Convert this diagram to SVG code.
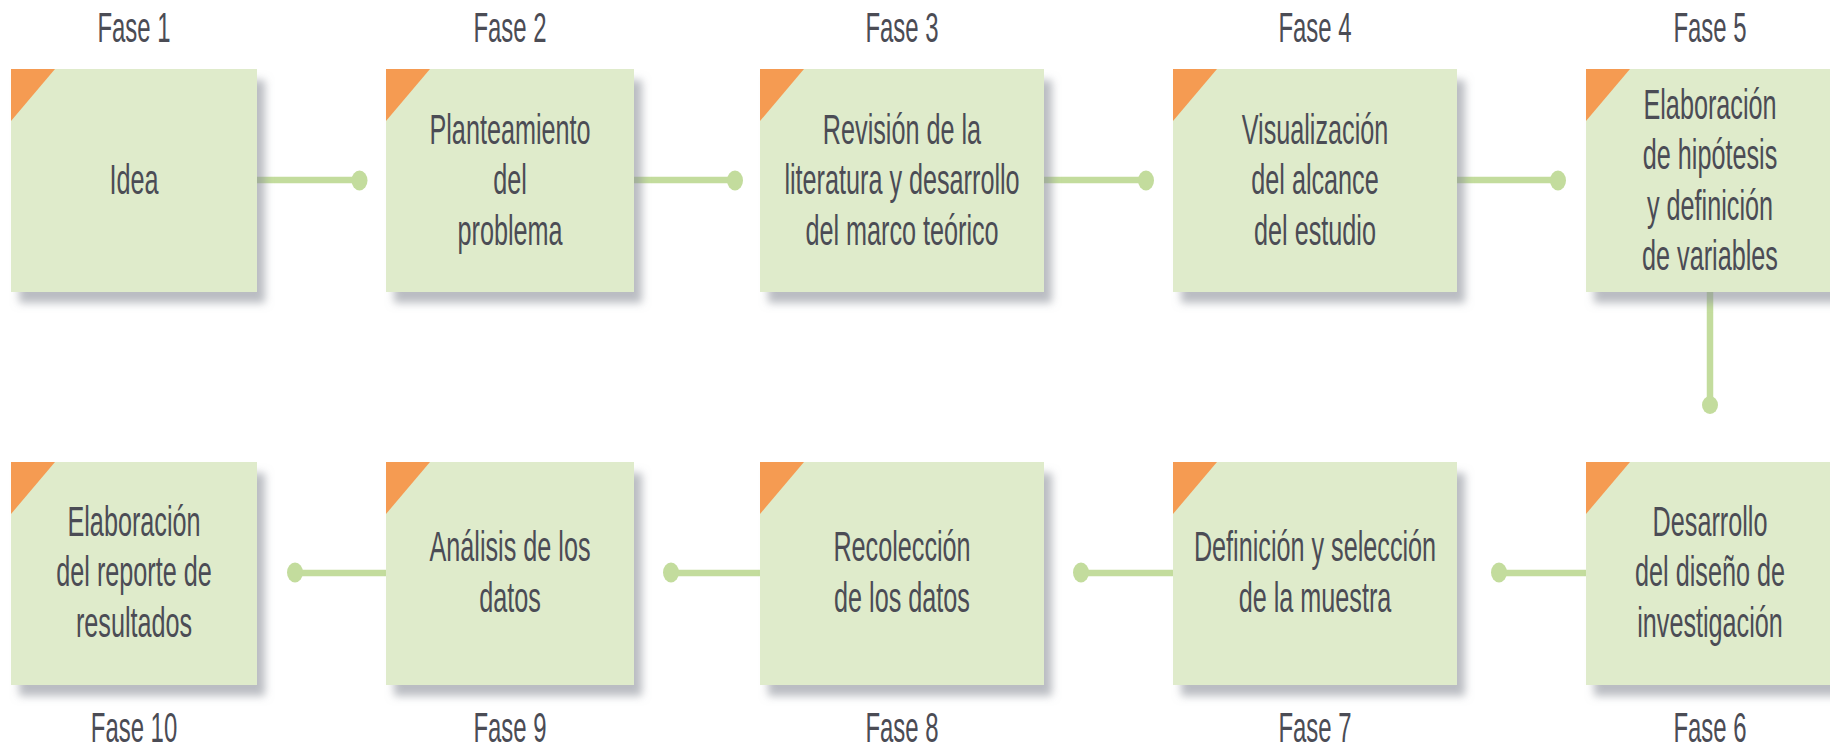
<svg xmlns="http://www.w3.org/2000/svg" width="1830" height="748" viewBox="0 0 1830 748">
<defs>
<style>
.box{fill:#dfebcb;filter:url(#sh)}
.tri{fill:#f59b52}
.t{font-family:"Liberation Sans",Arial,sans-serif;font-size:42px;fill:#4b4c55;text-anchor:middle}
.ln{stroke:#c3dc9d;stroke-width:6.5;fill:none}
.dot{fill:#c3dc9d}
</style>
<filter id="sh" x="-10%" y="-10%" width="130%" height="130%">
<feDropShadow dx="8" dy="11" stdDeviation="4.5" flood-color="#8c919a" flood-opacity="0.6"/>
</filter>
</defs>
<rect width="1830" height="748" fill="#ffffff"/>
<g id="connectors">
<line class="ln" x1="257" y1="180" x2="359" y2="180"/><ellipse class="dot" cx="359.5" cy="180.5" rx="8" ry="10"/>
<line class="ln" x1="634" y1="180" x2="735" y2="180"/><ellipse class="dot" cx="735" cy="180.5" rx="8" ry="10"/>
<line class="ln" x1="1044" y1="180" x2="1146" y2="180"/><ellipse class="dot" cx="1146" cy="180.5" rx="8" ry="10"/>
<line class="ln" x1="1457" y1="180" x2="1558" y2="180"/><ellipse class="dot" cx="1558" cy="180.5" rx="8" ry="10"/>
<line class="ln" x1="1710" y1="292" x2="1710" y2="405"/><ellipse class="dot" cx="1710" cy="405" rx="8" ry="9"/>
<line class="ln" x1="1586" y1="573" x2="1499" y2="573"/><ellipse class="dot" cx="1499" cy="572.5" rx="8" ry="10"/>
<line class="ln" x1="1173" y1="573" x2="1081" y2="573"/><ellipse class="dot" cx="1081" cy="572.5" rx="8" ry="10"/>
<line class="ln" x1="760" y1="573" x2="671" y2="573"/><ellipse class="dot" cx="671" cy="572.5" rx="8" ry="10"/>
<line class="ln" x1="386" y1="573" x2="295" y2="573"/><ellipse class="dot" cx="295" cy="572.5" rx="8" ry="10"/>
</g>
<g id="fase1">
<rect class="box" x="11" y="69" width="246" height="223"/><polygon class="tri" points="11,69 55,69 11,121"/>
<g transform="translate(134,0) scale(0.57,1)"><text class="t" x="0" y="42.5">Fase 1</text></g>
<g transform="translate(134,0) scale(0.6,1)"><text class="t" x="0" y="194.5">Idea</text></g>
</g>
<g id="fase2">
<rect class="box" x="386" y="69" width="248" height="223"/><polygon class="tri" points="386,69 430,69 386,121"/>
<g transform="translate(510,0) scale(0.57,1)"><text class="t" x="0" y="42.5">Fase 2</text></g>
<g transform="translate(510,0) scale(0.6,1)"><text class="t"><tspan x="0" y="144">Planteamiento</tspan><tspan x="0" y="194.5">del</tspan><tspan x="0" y="245">problema</tspan></text></g>
</g>
<g id="fase3">
<rect class="box" x="760" y="69" width="284" height="223"/><polygon class="tri" points="760,69 804,69 760,121"/>
<g transform="translate(902,0) scale(0.57,1)"><text class="t" x="0" y="42.5">Fase 3</text></g>
<g transform="translate(902,0) scale(0.6,1)"><text class="t"><tspan x="0" y="144">Revisión de la</tspan><tspan x="0" y="194.5">literatura y desarrollo</tspan><tspan x="0" y="245">del marco teórico</tspan></text></g>
</g>
<g id="fase4">
<rect class="box" x="1173" y="69" width="284" height="223"/><polygon class="tri" points="1173,69 1217,69 1173,121"/>
<g transform="translate(1315,0) scale(0.57,1)"><text class="t" x="0" y="42.5">Fase 4</text></g>
<g transform="translate(1315,0) scale(0.6,1)"><text class="t"><tspan x="0" y="144">Visualización</tspan><tspan x="0" y="194.5">del alcance</tspan><tspan x="0" y="245">del estudio</tspan></text></g>
</g>
<g id="fase5">
<rect class="box" x="1586" y="69" width="250" height="223"/><polygon class="tri" points="1586,69 1630,69 1586,121"/>
<g transform="translate(1710,0) scale(0.57,1)"><text class="t" x="0" y="42.5">Fase 5</text></g>
<g transform="translate(1710,0) scale(0.6,1)"><text class="t"><tspan x="0" y="119">Elaboración</tspan><tspan x="0" y="169.5">de hipótesis</tspan><tspan x="0" y="220">y definición</tspan><tspan x="0" y="270.5">de variables</tspan></text></g>
</g>
<g id="fase6">
<rect class="box" x="1586" y="462" width="250" height="223"/><polygon class="tri" points="1586,462 1630,462 1586,514"/>
<g transform="translate(1710,0) scale(0.57,1)"><text class="t" x="0" y="742">Fase 6</text></g>
<g transform="translate(1710,0) scale(0.6,1)"><text class="t"><tspan x="0" y="536">Desarrollo</tspan><tspan x="0" y="586.5">del diseño de</tspan><tspan x="0" y="637">investigación</tspan></text></g>
</g>
<g id="fase7">
<rect class="box" x="1173" y="462" width="284" height="223"/><polygon class="tri" points="1173,462 1217,462 1173,514"/>
<g transform="translate(1315,0) scale(0.57,1)"><text class="t" x="0" y="742">Fase 7</text></g>
<g transform="translate(1315,0) scale(0.6,1)"><text class="t"><tspan x="0" y="561.25">Definición y selección</tspan><tspan x="0" y="611.75">de la muestra</tspan></text></g>
</g>
<g id="fase8">
<rect class="box" x="760" y="462" width="284" height="223"/><polygon class="tri" points="760,462 804,462 760,514"/>
<g transform="translate(902,0) scale(0.57,1)"><text class="t" x="0" y="742">Fase 8</text></g>
<g transform="translate(902,0) scale(0.6,1)"><text class="t"><tspan x="0" y="561.25">Recolección</tspan><tspan x="0" y="611.75">de los datos</tspan></text></g>
</g>
<g id="fase9">
<rect class="box" x="386" y="462" width="248" height="223"/><polygon class="tri" points="386,462 430,462 386,514"/>
<g transform="translate(510,0) scale(0.57,1)"><text class="t" x="0" y="742">Fase 9</text></g>
<g transform="translate(510,0) scale(0.6,1)"><text class="t"><tspan x="0" y="561.25">Análisis de los</tspan><tspan x="0" y="611.75">datos</tspan></text></g>
</g>
<g id="fase10">
<rect class="box" x="11" y="462" width="246" height="223"/><polygon class="tri" points="11,462 55,462 11,514"/>
<g transform="translate(134,0) scale(0.57,1)"><text class="t" x="0" y="742">Fase 10</text></g>
<g transform="translate(134,0) scale(0.6,1)"><text class="t"><tspan x="0" y="536">Elaboración</tspan><tspan x="0" y="586.5">del reporte de</tspan><tspan x="0" y="637">resultados</tspan></text></g>
</g>
</svg>
